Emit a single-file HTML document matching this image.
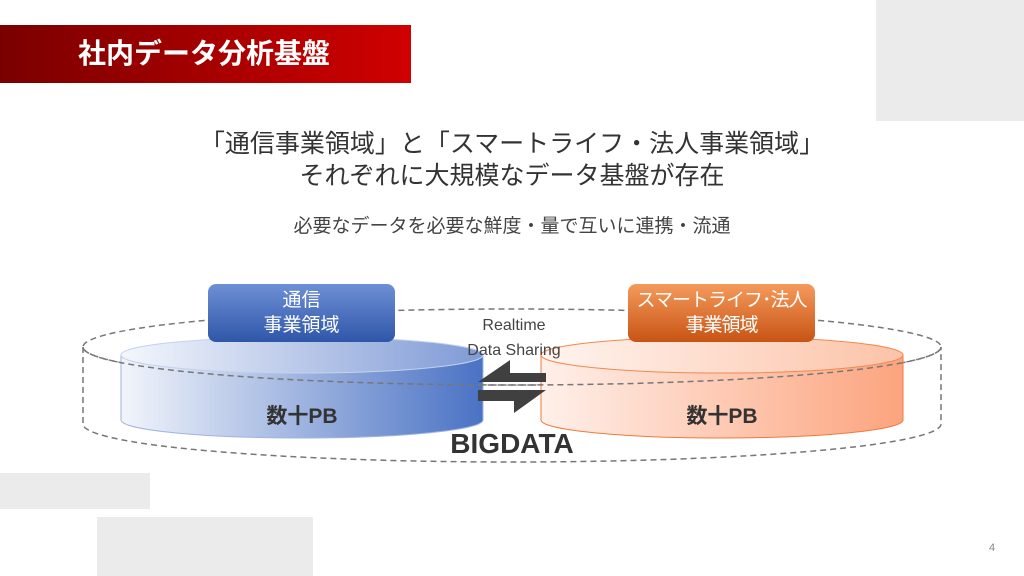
<!DOCTYPE html>
<html><head><meta charset="utf-8"><style>
body{margin:0;width:1024px;height:576px;position:relative;overflow:hidden;background:#fff;font-family:"Liberation Sans","Noto Sans CJK JP",sans-serif;}
.a{position:absolute}
</style></head><body>
<div class="a" style="left:876px;top:0;width:148px;height:121px;background:#ebebeb"></div>
<div class="a" style="left:0;top:473px;width:150px;height:36px;background:#ebebeb"></div>
<div class="a" style="left:97px;top:517px;width:216px;height:59px;background:#ebebeb"></div>
<div class="a" style="left:0;top:25px;width:411px;height:58px;background:linear-gradient(90deg,#7a0000,#d00000)"></div>
<div class="a" style="left:78px;top:32px;color:#fff;font-size:28px;font-weight:bold;line-height:44px">社内データ分析基盤</div>
<div class="a" style="left:0;width:1024px;top:128px;text-align:center;font-size:25px;color:#333;line-height:32px">「通信事業領域」と「スマートライフ・法人事業領域」<br>それぞれに大規模なデータ基盤が存在</div>
<div class="a" style="left:0;width:1024px;top:214px;text-align:center;font-size:19px;color:#444;line-height:26px">必要なデータを必要な鮮度・量で互いに連携・流通</div>
<svg class="a" style="left:0;top:0" width="1024" height="576">
<defs>
<linearGradient id="bl" x1="0" x2="1"><stop offset="0" stop-color="#f2f5fb"/><stop offset="1" stop-color="#4a72c4"/></linearGradient>
<linearGradient id="bt" x1="0" x2="1"><stop offset="0" stop-color="#f4f7fc"/><stop offset="1" stop-color="#7f9ad6"/></linearGradient>
<linearGradient id="or" x1="0" x2="1"><stop offset="0" stop-color="#fff0ea"/><stop offset="1" stop-color="#fca47e"/></linearGradient>
<linearGradient id="ot" x1="0" x2="1"><stop offset="0" stop-color="#fff4ef"/><stop offset="1" stop-color="#fcc3a8"/></linearGradient>
<linearGradient id="bb" x1="0" y1="0" x2="0" y2="1"><stop offset="0" stop-color="#6e90d6"/><stop offset="1" stop-color="#2f56a8"/></linearGradient>
<linearGradient id="ob" x1="0" y1="0" x2="0" y2="1"><stop offset="0" stop-color="#f59a5c"/><stop offset="1" stop-color="#c85414"/></linearGradient>
</defs>
<g fill="none" stroke="#777" stroke-width="1.5" stroke-dasharray="6,4">
<ellipse cx="512" cy="347" rx="429" ry="38"/>
<path d="M83 347 V424 A429 38 0 0 0 941 424 V347"/>
</g>
<path d="M121 355 V420 A181 18 0 0 0 483 420 V355 Z" fill="url(#bl)" stroke="#9fb4e0"/>
<ellipse cx="302" cy="355" rx="181" ry="18" fill="url(#bt)" stroke="#c4d2ee"/>
<path d="M541 355 V420 A181 18 0 0 0 903 420 V355 Z" fill="url(#or)" stroke="#f07a3c"/>
<ellipse cx="722" cy="355" rx="181" ry="18" fill="url(#ot)" stroke="#f08a50"/>
<path d="M83 347 A429 38 0 0 0 941 347" fill="none" stroke="#777" stroke-width="1.5" stroke-dasharray="6,4"/>
<rect x="208" y="284" width="187" height="58" rx="8" fill="url(#bb)"/>
<rect x="628" y="284" width="187" height="58" rx="8" fill="url(#ob)"/>
<polygon points="478,382 510,360 510,373 546,373 546,382" fill="#404040"/>
<polygon points="478,390 546,390 514,413 514,401 478,401" fill="#404040"/>
</svg>
<div class="a" style="left:208px;top:288px;width:187px;text-align:center;color:#fff;font-size:19px;line-height:25px">通信<br>事業領域</div>
<div class="a" style="left:613px;top:288px;width:217px;text-align:center;color:#fff;font-size:19px;line-height:25px;letter-spacing:-1px">スマートライフ･法人<br>事業領域</div>
<div class="a" style="left:435px;top:313px;width:158px;text-align:center;color:#444;font-size:16px;line-height:25px">Realtime<br>Data Sharing</div>
<div class="a" style="left:202px;top:400px;width:200px;text-align:center;color:#333;font-size:21px;font-weight:bold">数十PB</div>
<div class="a" style="left:622px;top:400px;width:200px;text-align:center;color:#333;font-size:21px;font-weight:bold">数十PB</div>
<div class="a" style="left:412px;top:428px;width:200px;text-align:center;color:#333;font-size:28px;font-weight:bold">BIGDATA</div>
<div class="a" style="left:989px;top:542px;color:#888;font-size:11px">4</div>
</body></html>
